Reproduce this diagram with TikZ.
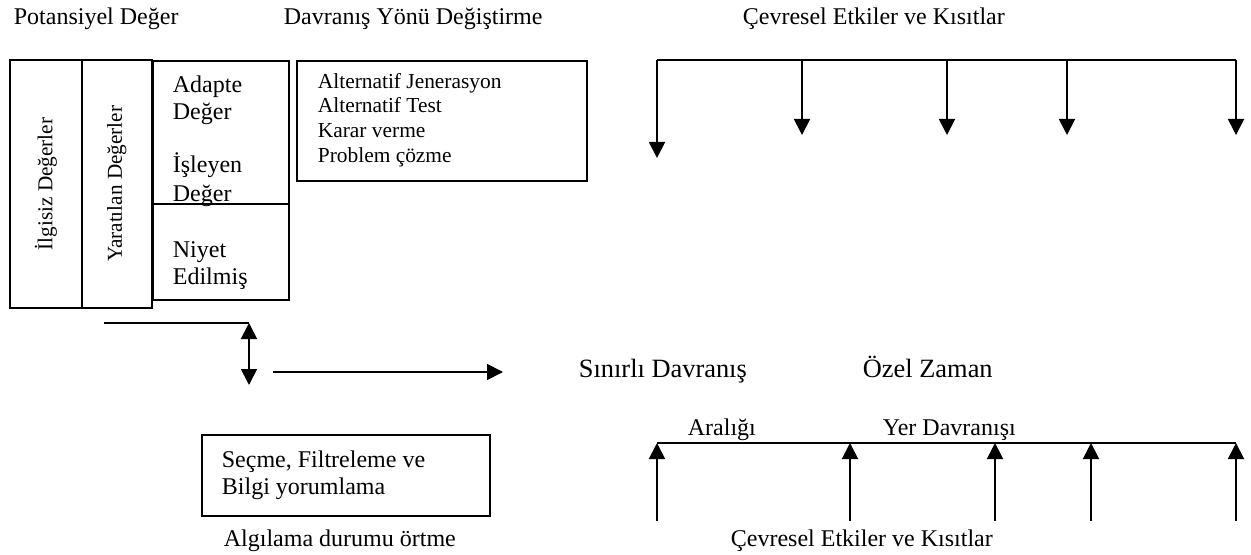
\documentclass[tikz,border=0pt]{standalone}
\usepackage{fontspec}
\setmainfont{Liberation Serif}
\usetikzlibrary{arrows.meta,positioning}

\tikzset{
  box/.style={draw, line width=0.9pt, inner sep=0pt, anchor=north west},
  lbl/.style={inner sep=0pt, anchor=base west, font=\fontsize{12}{14}\selectfont},
  smalllbl/.style={lbl, font=\fontsize{10.7}{12}\selectfont},
  biglbl/.style={lbl, font=\fontsize{13.2}{15}\selectfont},
  tip/.style={-{Triangle[width=8pt,length=8pt]}},
  dtip/.style={{Triangle[width=8pt,length=8pt]}-{Triangle[width=8pt,length=8pt]}},
}

\begin{document}
\begin{tikzpicture}[x=0.5pt, y=-0.5pt, line width=0.9pt]
\useasboundingbox (0,0) rectangle (1251,555);

% headings
\node[lbl] (potansiyel) at (13,25) {Potansiyel Değer};
\node[lbl] (davranis) at (283,25) {Davranış Yönü Değiştirme};
\node[lbl] (cevreustu) at (742,25) {Çevresel Etkiler ve Kısıtlar};

% value boxes
\node[box, minimum width=36pt, minimum height=124pt] (ilgisiz) at (9,59) {};
\node[box, minimum width=35pt, minimum height=124pt] (yaratilan) at (81,59) {};
\node[rotate=90, inner sep=0pt, font=\fontsize{10.6}{12}\selectfont] at (ilgisiz.center) {İlgisiz Değerler};
\node[rotate=90, inner sep=0pt, font=\fontsize{10.6}{12}\selectfont] at (yaratilan.center) {Yaratılan Değerler};

\node[box, minimum width=68pt, minimum height=71.5pt] (adapte) at (152,60) {};
\node[box, minimum width=68pt, minimum height=48pt] (niyet) at (152,203) {};
\foreach \yy/\txt in {93/Adapte, 120/Değer, 173/İşleyen, 202/Değer, 258/Niyet, 285/Edilmiş}
  \node[lbl, name=deger\yy] at (172,\yy) {\txt};

% alternatives box
\node[box, minimum width=145pt, minimum height=60pt] (alternatif) at (296,60) {};
\foreach \yy/\txt in {89/Alternatif Jenerasyon, 113/Alternatif Test, 138/Karar verme, 163/Problem çözme}
  \node[smalllbl, name=alt\yy] at (317,\yy) {\txt};

% top bar with arrows
\coordinate (t1) at (657,60);
\coordinate (t2) at (802,60);
\coordinate (t3) at (947,60);
\coordinate (t4) at (1067,60);
\coordinate (t5) at (1236,60);
\draw (t1) -- (t5);
\draw[tip] (t1) -- ++(0,98);
\foreach \i in {2,...,5}
  \draw[tip] (t\i) -- ++(0,75);

% middle part
\coordinate (m1) at (104,323);
\coordinate (m2) at (249,323);
\coordinate (m3) at (249,385);
\draw (m1) -- (m2);
\draw[dtip] (m2) -- (m3);
\coordinate (h1) at (273,372);
\coordinate (h2) at (503,372);
\draw[tip] (h1) -- (h2);
\node[biglbl] (sinirli) at (578,377) {Sınırlı Davranış};
\node[biglbl] (ozel) at (862,377) {Özel Zaman};

% perception box
\node[box, minimum width=144pt, minimum height=40.5pt] (secme) at (201,434) {};
\node[lbl] (secme1) at (221,467) {Seçme, Filtreleme ve};
\node[lbl] (secme2) at (221,494) {Bilgi yorumlama};
\node[lbl] (algilama) at (223,546) {Algılama durumu örtme};

% bottom bar with arrows
\coordinate (b1) at (657,443);
\coordinate (b2) at (850,443);
\coordinate (b3) at (995,443);
\coordinate (b4) at (1091,443);
\coordinate (b5) at (1236,443);
\draw (b1) -- (b5);
\foreach \i in {1,...,5}
  \draw[tip] (b\i) ++(0,78) -- (b\i);
\node[lbl] (araligi) at (687,435) {Aralığı};
\node[lbl] (yer) at (882,435) {Yer Davranışı};
\node[lbl] (cevrealti) at (730,546) {Çevresel Etkiler ve Kısıtlar};
\end{tikzpicture}
\end{document}
